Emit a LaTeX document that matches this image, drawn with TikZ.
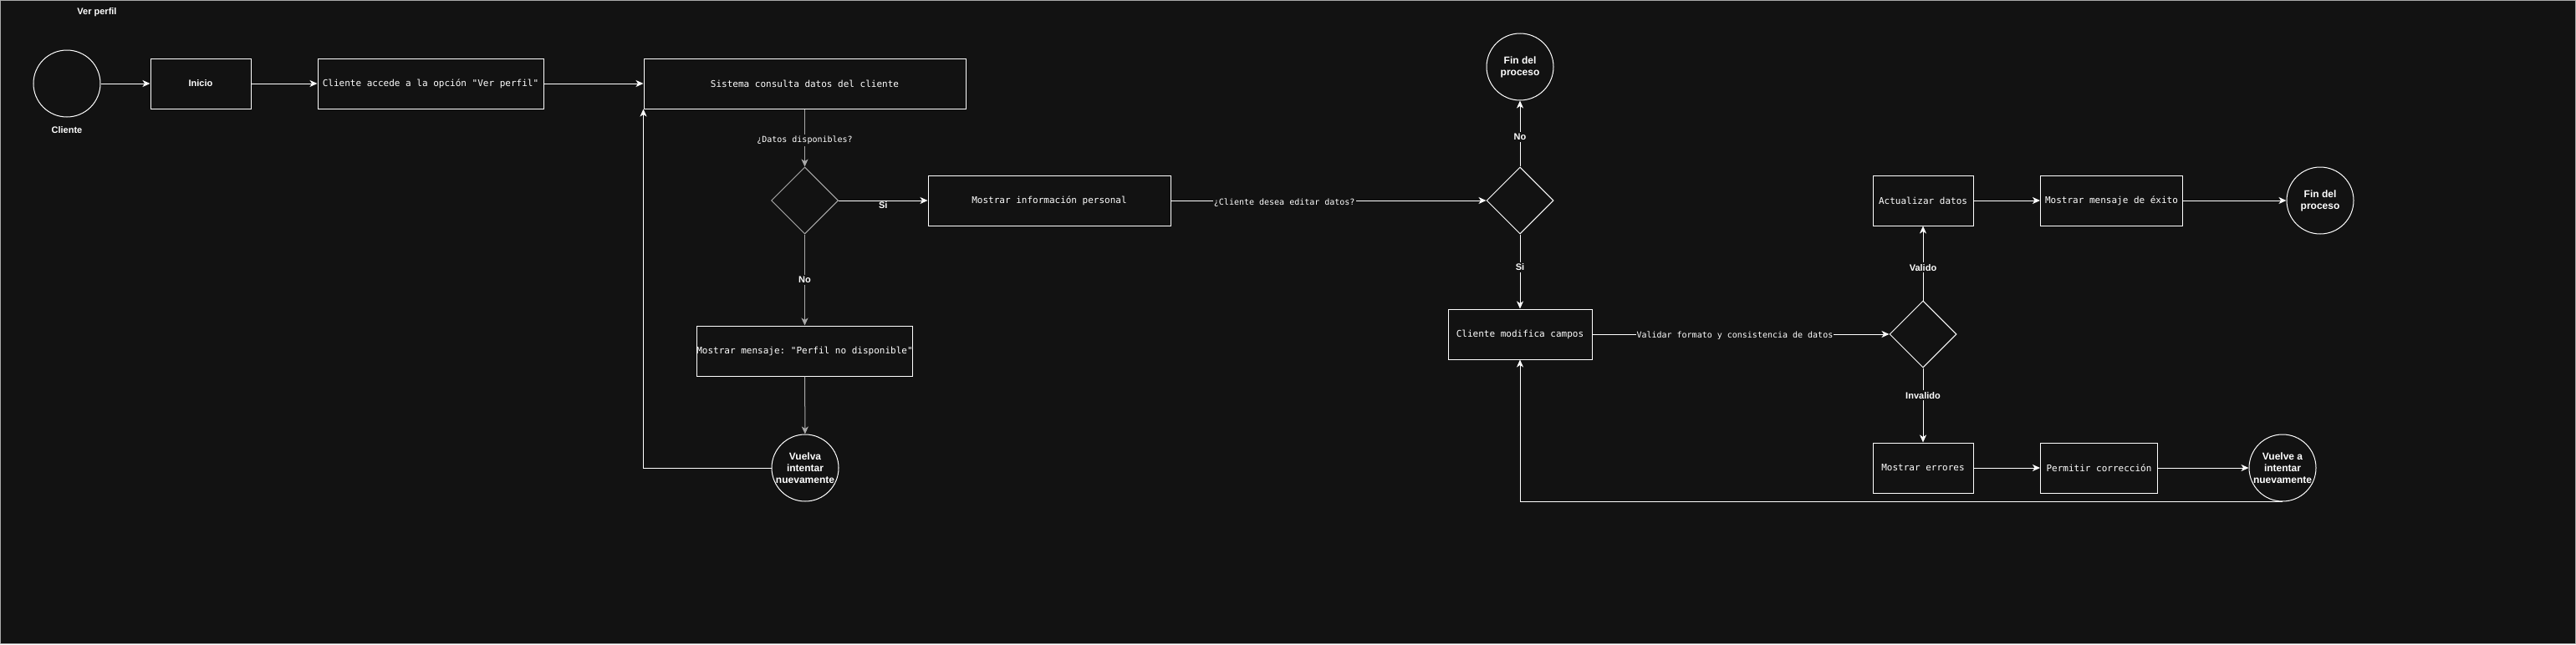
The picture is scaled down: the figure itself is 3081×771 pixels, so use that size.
\documentclass[tikz,border=0pt]{standalone}
\usepackage{fontspec}
\setmainfont{Liberation Sans}
\setmonofont{DejaVu Sans Mono}
\usetikzlibrary{arrows.meta,shapes.geometric}
\definecolor{fondo}{RGB}{18,18,18}
\definecolor{tenue}{RGB}{170,170,170}

\begin{document}
\begin{tikzpicture}
[x=1pt,y=-1pt,
  boxdecorate/.style={shape=rectangle,draw=white,line width=1pt,minimum height=60pt,inner sep=0pt,text=white,font=\ttfamily\fontsize{11}{13}\selectfont},%
  circledecorate/.style={shape=circle,draw=white,line width=1pt,minimum size=80pt,inner sep=0pt,align=center,text=white,font=\bfseries\fontsize{12}{14}\selectfont},%
  diamonddecorate/.style={shape=diamond,draw=white,line width=1pt,minimum width=80pt,minimum height=80pt,inner sep=0pt},%
  linedecorate/.style={-{Stealth[length=9pt,width=8pt,inset=2.5pt]},draw=white,line width=1pt},%
  labeldecorate/.style={fill=fondo,text=white,inner sep=2pt,font=\bfseries\fontsize{11}{13}\selectfont},%
  monolabel/.style={fill=fondo,text=white,inner sep=2pt,font=\ttfamily\fontsize{10}{12}\selectfont}]
%% background and frame
\useasboundingbox (0,0) rectangle (3081,771);
\fill[fondo] (0,0) rectangle (3081,771);
\draw[tenue,line width=1pt] (0.5,0.5) rectangle (3080.5,770.5);
\node (titulo) at (116,15) [text=white,font=\bfseries\fontsize{11}{13}\selectfont] {Ver perfil};
%% nodes or vertices
\foreach \nodename/\x/\y/\w/\texto in {accede/515/100/270/{Cliente accede a la opción "Ver perfil"},
    sistema/962.5/100/385/{Sistema consulta datos del cliente},
    info/1255/240/290/{Mostrar información personal},
    nodisp/962.5/420/258/{Mostrar mensaje: "Perfil no disponible"},
    modifica/1818/400/172/{Cliente modifica campos},
    actualizar/2300/240/120/{Actualizar datos},
    exito/2525.5/240/170/{Mostrar mensaje de éxito},
    errores/2300/560/120/{Mostrar errores},
    correccion/2510.5/560/140/{Permitir corrección}} {
  \node (\nodename) at (\x,\y) [boxdecorate,minimum width=\w pt] {\texto};
}
\node (inicio) at (240,100) [boxdecorate,minimum width=120pt,font=\bfseries\fontsize{11}{13}\selectfont] {Inicio};
\foreach \nodename/\x/\y/\texto in {cliente/80/100/{}, vuelva/963/560/{Vuelva\\intentar\\nuevamente},
    fin1/1818/80/{Fin del\\proceso}, fin2/2775/240/{Fin del\\proceso},
    vuelve/2730/560/{Vuelve a\\intentar\\nuevamente}} {
  \node (\nodename) at (\x,\y) [circledecorate] {\texto};
}
\node (clientelbl) at (80,156) [text=white,font=\bfseries\fontsize{11}{13}\selectfont] {Cliente};
\node (datos) at (962.5,240) [diamonddecorate,draw=tenue] {};
\foreach \nodename/\x/\y in {editar/1818/240, valida/2300/400} {
  \node (\nodename) at (\x,\y) [diamonddecorate] {};
}
%% edges or lines
\path
\foreach \startnode/\endnode in {cliente/inicio, inicio/accede, accede/sistema,
    actualizar/exito, exito/fin2, errores/correccion, correccion/vuelve} {
  (\startnode) edge[linedecorate] (\endnode)
};
\draw[linedecorate,draw=tenue] (sistema) -- node[monolabel,pos=0.54] {¿Datos disponibles?} (datos);
\draw[linedecorate] (datos) -- node[labeldecorate,pos=0.5,yshift=-6pt,inner sep=1pt] {Si} (info);
\draw[linedecorate,draw=tenue] (datos) -- node[labeldecorate,pos=0.5] {No} (nodisp);
\draw[linedecorate,draw=tenue] (nodisp) -- (vuelva);
\draw[linedecorate] (vuelva.west) -| (sistema.south west);
\draw[linedecorate] (info) -- node[monolabel,pos=0.36,yshift=-3pt,inner sep=1pt] {¿Cliente desea editar datos?} (editar);
\draw[linedecorate] (editar) -- node[labeldecorate,pos=0.45] {No} (fin1);
\draw[linedecorate] (editar) -- node[labeldecorate,pos=0.44] {Si} (modifica);
\draw[linedecorate] (modifica) -- node[monolabel,pos=0.48,yshift=-2pt,inner sep=1pt] {Validar formato y consistencia de datos} (valida);
\draw[linedecorate] (valida) -- node[labeldecorate,pos=0.44] {Valido} (actualizar);
\draw[linedecorate] (valida) -- node[labeldecorate,pos=0.37] {Invalido} (errores);
\draw[linedecorate] (vuelve.south) -| (modifica.south);
\end{tikzpicture}
\end{document}
